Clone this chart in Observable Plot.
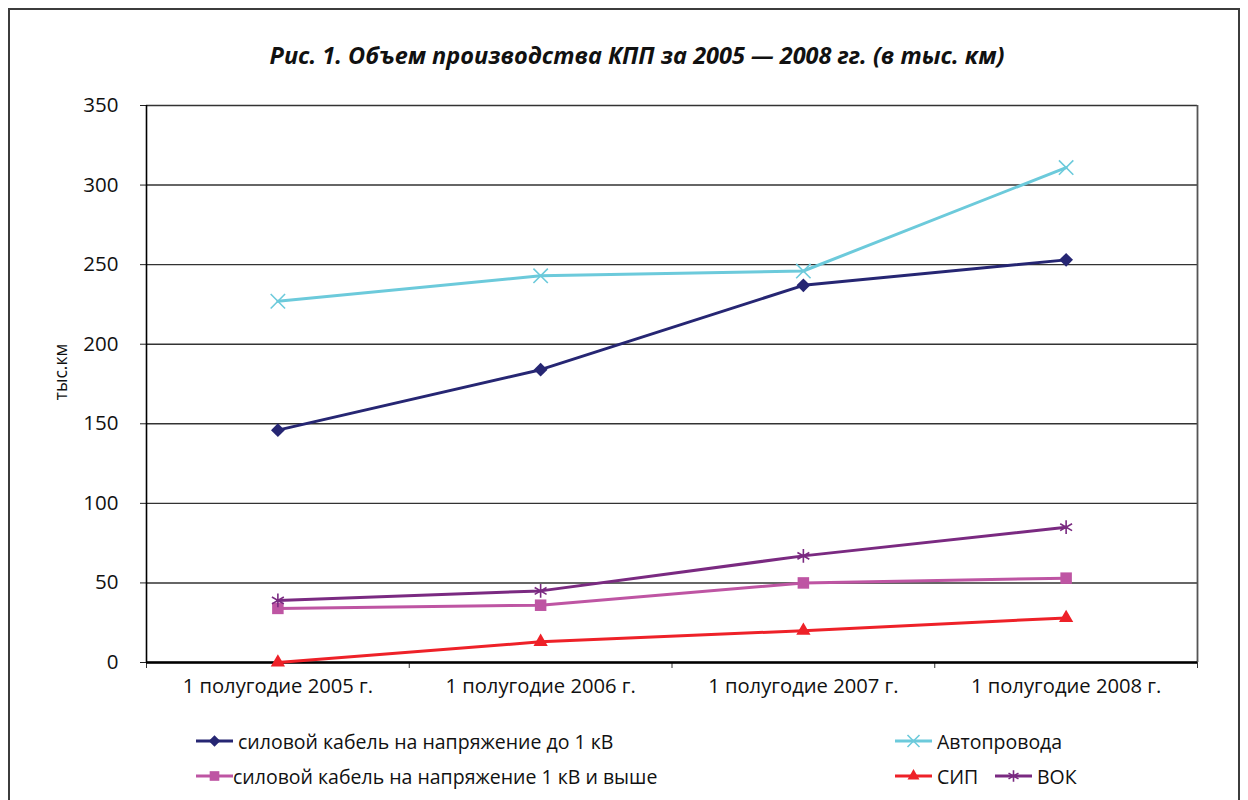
<!DOCTYPE html>
<html>
<head>
<meta charset="utf-8">
<script src="https://cdn.jsdelivr.net/npm/d3@7"></script>
<script src="https://cdn.jsdelivr.net/npm/@observablehq/plot@0.6"></script>
<style>
  body { margin: 0; background: #fff; }
  #wrap { position: relative; width: 1248px; height: 800px; overflow: hidden; font-family: "Open Sans", sans-serif; color: #111; }
  #frame { position: absolute; left: 8px; top: 8px; width: 1228px; height: 820px; border: 2px solid #3c3c3c; border-bottom: none; }
  #title { position: absolute; top: 39px; left: 0; width: 1274px; text-align: center; font-family: "Open Sans", sans-serif; font-style: italic; font-weight: 700; font-size: 23.5px; }
  #chart { position: absolute; left: 0; top: 0; }
  #ylabel { position: absolute; left: 60px; top: 372px; transform: translate(-50%, -50%) rotate(-90deg); font-size: 17.5px; white-space: nowrap; }
  .leg { position: absolute; display: flex; align-items: center; font-size: 19.5px; white-space: nowrap; height: 22px; }
  .leg svg { overflow: visible; }
</style>
</head>
<body>
<div id="wrap">
  <div id="frame"></div>
  <div id="chart"></div>
  <div id="title">Рис. 1. Объем производства КПП за 2005 — 2008 гг. (в тыс. км)</div>
  <div id="ylabel"></div>
  <div id="legend"></div>
</div>
<script>
// ---- data ----
const categories = ["1 полугодие 2005 г.", "1 полугодие 2006 г.", "1 полугодие 2007 г.", "1 полугодие 2008 г."];
const seriesNames = [
  "силовой кабель на напряжение до 1 кВ",
  "силовой кабель на напряжение 1 кВ и выше",
  "Автопровода",
  "СИП",
  "ВОК"
];
const cableLow = [146, 184, 237, 253];
const cableHigh = [34, 36, 50, 53];
const autoWires = [227, 243, 246, 311];
const sip = [0, 13, 20, 28];
const vok = [39, 45, 67, 85];
const yTicks = [0, 50, 100, 150, 200, 250, 300, 350];
const yLabel = "тыс.км";

// ---- styles ----
const seriesValues = [cableLow, cableHigh, autoWires, sip, vok];
const colors = ["#262673", "#be55a3", "#6ccadb", "#ee2128", "#7a2a81"];
const symbols = ["diamond2", "square", "times", "triangle", "asterisk"];
const filled = [true, true, false, true, false];
const radii = [6.2, 6.5, 6.6, 5.3, 6.5];

document.getElementById("ylabel").textContent = yLabel;

const rows = [];
seriesValues.forEach((vals, si) => {
  vals.forEach((v, ci) => rows.push({series: seriesNames[si], idx: ci + 0.5, value: v}));
});

const lineMarks = [];
const dotMarks = [];
seriesNames.forEach((name, si) => {
  const data = rows.filter(d => d.series === name);
  lineMarks.push(Plot.line(data, {x: "idx", y: "value", stroke: colors[si], strokeWidth: 3}));
  dotMarks.push(Plot.dot(data, {
    x: "idx", y: "value", symbol: () => symbols[si], r: radii[si],
    fill: filled[si] ? colors[si] : "none",
    stroke: filled[si] ? "none" : colors[si],
    strokeWidth: filled[si] ? 0 : 1.6
  }));
});

const chart = Plot.plot({
  width: 1248,
  height: 700,
  marginLeft: 146,
  marginRight: 51,
  marginTop: 105,
  marginBottom: 38,
  style: {fontFamily: "Open Sans, sans-serif", fontSize: "20.5px", color: "#111", background: "transparent", overflow: "visible"},
  x: {type: "linear", domain: [0, categories.length]},
  y: {domain: [0, 350]},
  symbol: {type: "identity"},
  marks: [
    Plot.ruleY(yTicks, {stroke: "#333", strokeWidth: 1.4}),
    Plot.ruleX([categories.length], {stroke: "#555", strokeWidth: 1.8, y1: 0, y2: 350}),
    Plot.axisY({ticks: yTicks, tickSize: 6, tickPadding: 22, label: null, stroke: "#222", fontSize: 20.5}),
    Plot.axisX({ticks: d3.range(categories.length + 1), tickSize: 6, tickFormat: () => "", label: null, stroke: "#333"}),
    Plot.axisX({ticks: categories.map((c, i) => i + 0.5), tickSize: 0, tickPadding: 16.5, tickFormat: d => categories[Math.floor(d)], label: null, fontSize: 20.2}),
    Plot.ruleX([0], {stroke: "#000", strokeWidth: 1.6}),
    Plot.ruleY([0], {stroke: "#000", strokeWidth: 2.4}),
    ...lineMarks,
    ...dotMarks
  ]
});
document.getElementById("chart").appendChild(chart);

// ---- legend ----
const legendPos = [
  {left: 196, top: 730, gap: 5},
  {left: 196, top: 765, gap: 0},
  {left: 895, top: 730, gap: 5},
  {left: 895, top: 765, gap: 5},
  {left: 995, top: 765, gap: 5}
];
const legend = document.getElementById("legend");
const symMap = {diamond2: d3.symbolDiamond2, square: d3.symbolSquare, times: d3.symbolTimes, triangle: d3.symbolTriangle, asterisk: d3.symbolAsterisk};
seriesNames.forEach((name, si) => {
  const item = document.createElement("div");
  item.className = "leg";
  item.style.left = legendPos[si].left + "px";
  item.style.top = legendPos[si].top + "px";
  const svg = d3.create("svg").attr("width", 37).attr("height", 20).style("margin-right", legendPos[si].gap + "px");
  svg.append("line").attr("x1", 0).attr("x2", 37).attr("y1", 10).attr("y2", 10)
    .attr("stroke", colors[si]).attr("stroke-width", 3);
  svg.append("path")
    .attr("transform", "translate(18.5,10)")
    .attr("d", d3.symbol(symMap[symbols[si]], Math.PI * radii[si] * radii[si] * 0.7)())
    .attr("fill", filled[si] ? colors[si] : "none")
    .attr("stroke", filled[si] ? "none" : colors[si])
    .attr("stroke-width", 1.6);
  item.appendChild(svg.node());
  const span = document.createElement("span");
  span.textContent = name;
  item.appendChild(span);
  legend.appendChild(item);
});
</script>
</body>
</html>
